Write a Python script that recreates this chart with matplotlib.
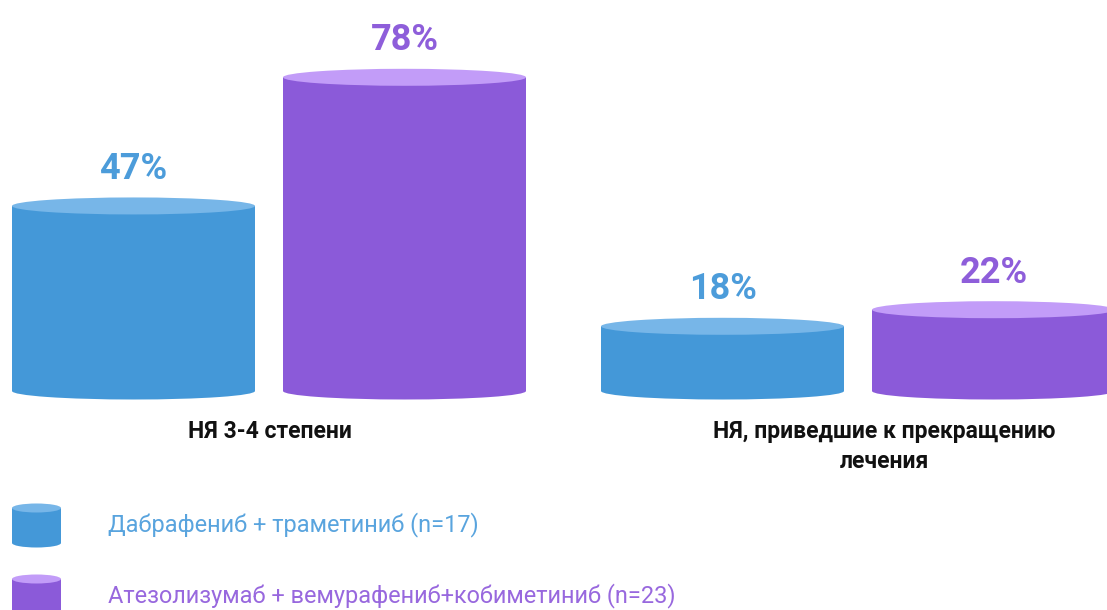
import matplotlib
matplotlib.use("Agg")
import matplotlib.pyplot as plt
from matplotlib.patches import Rectangle, Ellipse

plt.rcParams['font.family'] = ['Roboto', 'DejaVu Sans']

# ---- data ----
categories = ["НЯ 3-4 степени", "НЯ, приведшие к прекращению\nлечения"]
series_names = ["Дабрафениб + траметиниб (n=17)",
                "Атезолизумаб + вемурафениб+кобиметиниб (n=23)"]
dab_values = [47, 18]
atezo_values = [78, 22]
value_labels_dab = ["47%", "18%"]
value_labels_atezo = ["78%", "22%"]

# ---- style ----
side_colors = ["#4498D8", "#8B5AD9"]
top_colors = ["#77B6E8", "#C29CF8"]
text_colors = ["#4C9CDA", "#8E5EDA"]
legend_text_colors = ["#59A4DE", "#9868DE"]

W, H = 1107, 610
P0, K = 401.0, 4.15          # pixel of value 0, pixels per percent
fig = plt.figure(figsize=(W / 100, H / 100), dpi=100)
ax = fig.add_axes([0, 0, 1, 1])
ax.set_xlim(0, W)
ax.set_ylim((P0 - H) / K, P0 / K)
ax.axis("off")

lax = fig.add_axes([0, 0, 1, 1], zorder=3)
lax.set_xlim(0, W)
lax.set_ylim(H, 0)
lax.axis("off")
lax.patch.set_alpha(0)

bar_w = 243
ell_h = 17 / K
base_v = (P0 - 391) / K
group_left = [12, 601]
gap = 271

def cylinder(axis, x0, w, y0, y1, eh, side, top):
    axis.add_patch(Ellipse((x0 + w / 2, y0), w, eh, facecolor=side, edgecolor="none", zorder=1))
    axis.add_patch(Rectangle((x0, min(y0, y1)), w, abs(y1 - y0), facecolor=side, edgecolor="none", zorder=2))
    axis.add_patch(Ellipse((x0 + w / 2, y1), w, eh, facecolor=top, edgecolor="none", zorder=3))

for gi in range(len(categories)):
    for si, (vals, labs) in enumerate([(dab_values, value_labels_dab), (atezo_values, value_labels_atezo)]):
        v = vals[gi]
        x0 = group_left[gi] + si * gap
        cylinder(ax, x0, bar_w, base_v, v, ell_h, side_colors[si], top_colors[si])
        ax.text(x0 + bar_w / 2, v + 27 / K, labs[gi], ha="center", va="baseline",
                fontsize=26, fontweight="bold", color=text_colors[si])

# category labels
cat_x = [270, 884]
for cx, cat in zip(cat_x, categories):
    lax.text(cx, 420, cat, ha="center", va="top", fontsize=16.5, fontweight="bold",
             color="#111111", linespacing=1.4)

# legend
leg_y = [508, 579]
for si, name in enumerate(series_names):
    y = leg_y[si]
    cylinder(lax, 12, 49, y + 35, y, 9, side_colors[si], top_colors[si])
    lax.text(108, y + 17, name, ha="left", va="center", fontsize=16.9,
             color=legend_text_colors[si])

fig.savefig("out.png", dpi=100)
